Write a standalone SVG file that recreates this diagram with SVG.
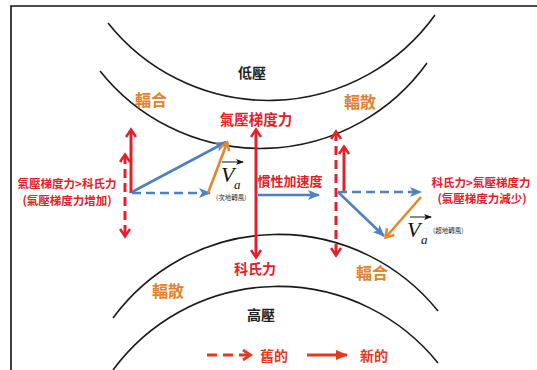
<svg xmlns="http://www.w3.org/2000/svg" width="537" height="370" viewBox="0 0 537 370">
<style>
.arc{fill:none;stroke:#1a1a1a;stroke-width:1.6}
.cjk{font-family:"Noto Sans CJK TC","Noto Sans CJK SC",sans-serif;font-weight:700}
.red{fill:#e3202a}
.org{fill:#e0822e}
.blk{fill:#222}
.lg{fill:#e8381e}
.rl{fill:none;stroke:#e3202a;stroke-width:3}
.rd{fill:none;stroke:#e3202a;stroke-width:3;stroke-dasharray:9,5}
.bl{fill:none;stroke:#4f81c0;stroke-width:2.6}
.bd{fill:none;stroke:#4f81c0;stroke-width:2.6;stroke-dasharray:9,5}
.ol{fill:none;stroke:#e5852c;stroke-width:2.6}
.va{font-family:"Liberation Serif",serif;font-style:italic;fill:#111}
.sm{font-family:"Noto Sans CJK TC",sans-serif;font-size:6.5px;fill:#222}
</style>
<defs>
<marker id="rh" viewBox="0 0 12 12" refX="9" refY="6" markerWidth="12" markerHeight="12" markerUnits="userSpaceOnUse" orient="auto-start-reverse">
<path d="M2,1 L9.5,6 L2,11" fill="none" stroke="#e3202a" stroke-width="2.6"/>
</marker>
<marker id="bh" viewBox="0 0 12 10" refX="11" refY="5" markerWidth="12" markerHeight="10" markerUnits="userSpaceOnUse" orient="auto">
<path d="M0,0 L12,5 L0,10 L3,5 z" fill="#4f81c0"/>
</marker>
<marker id="oh" viewBox="0 0 12 12" refX="9" refY="6" markerWidth="12" markerHeight="12" markerUnits="userSpaceOnUse" orient="auto">
<path d="M2,1 L9.5,6 L2,11" fill="none" stroke="#e5852c" stroke-width="2.6"/>
</marker>
<marker id="kh" viewBox="0 0 8 6" refX="7" refY="3" markerWidth="8" markerHeight="6" markerUnits="userSpaceOnUse" orient="auto">
<path d="M0,0 L8,3 L0,6 L2,3 z" fill="#111"/>
</marker>
<marker id="lh" viewBox="0 0 12 12" refX="9" refY="6" markerWidth="12" markerHeight="12" markerUnits="userSpaceOnUse" orient="auto">
<path d="M2,1 L9.5,6 L2,11" fill="none" stroke="#e8381e" stroke-width="2.8"/>
</marker>
<marker id="lf" viewBox="0 0 12 12" refX="11" refY="6" markerWidth="12" markerHeight="12" markerUnits="userSpaceOnUse" orient="auto">
<path d="M0,1 L12,6 L0,11 z" fill="#e8381e"/>
</marker>
</defs>
<rect width="537" height="370" fill="#fff"/>
<path d="M11,370 L11,6 L537,6" fill="none" stroke="#111" stroke-width="1.6"/>

<g id="isobars">
<path class="arc" d="M108,23 A205,205 0 0 0 435,15"/>
<path class="arc" d="M100,71 A205,205 0 0 0 427,63"/>
<path class="arc" d="M113,318 A205,205 0 0 1 438,311"/>
<path class="arc" d="M113,370 A205,205 0 0 1 438,363"/>
</g>

<g id="connectors">
<line class="rl" x1="131" y1="193" x2="131" y2="130" marker-end="url(#rh)"/>
<line class="rd" x1="125" y1="155" x2="125" y2="236" marker-start="url(#rh)" marker-end="url(#rh)"/>
<line class="rl" x1="256" y1="130" x2="256" y2="257" marker-start="url(#rh)" marker-end="url(#rh)"/>
<line class="rd" x1="336" y1="132" x2="336" y2="255" marker-start="url(#rh)" marker-end="url(#rh)"/>
<line class="rl" x1="344" y1="192" x2="344" y2="147" marker-end="url(#rh)"/>
<line class="bl" x1="132" y1="192" x2="226" y2="142" marker-end="url(#bh)"/>
<line class="bd" x1="132" y1="193" x2="210" y2="193" marker-end="url(#bh)"/>
<line class="ol" x1="208" y1="193" x2="227" y2="143" marker-end="url(#oh)"/>
<line class="bl" x1="258" y1="195" x2="319" y2="195" marker-end="url(#bh)"/>
<line class="bd" x1="338" y1="192" x2="421" y2="192" marker-end="url(#bh)"/>
<line class="bl" x1="338" y1="192" x2="384" y2="236" marker-end="url(#bh)"/>
<line class="ol" x1="421" y1="197" x2="386" y2="237" marker-end="url(#oh)"/>
<line x1="222" y1="162" x2="243" y2="162" stroke="#111" stroke-width="1" marker-end="url(#kh)"/>
<line x1="410" y1="217" x2="431" y2="217" stroke="#111" stroke-width="1" marker-end="url(#kh)"/>
</g>

<g id="low"><text class="cjk blk" x="252" y="78" font-size="14" text-anchor="middle">低壓</text></g>
<g id="high"><text class="cjk blk" x="261" y="320" font-size="14" text-anchor="middle">高壓</text></g>
<g id="conv1"><text class="cjk org" x="151" y="106" font-size="16" text-anchor="middle">輻合</text></g>
<g id="div1"><text class="cjk org" x="360" y="108" font-size="16" text-anchor="middle">輻散</text></g>
<g id="div2"><text class="cjk org" x="168" y="297" font-size="16" text-anchor="middle">輻散</text></g>
<g id="conv2"><text class="cjk org" x="372" y="279" font-size="16" text-anchor="middle">輻合</text></g>
<g id="pgf"><text class="cjk red" x="256" y="125" font-size="14.5" text-anchor="middle">氣壓梯度力</text></g>
<g id="cor"><text class="cjk red" x="255" y="274" font-size="14" text-anchor="middle">科氏力</text></g>
<g id="inertia"><text class="cjk red" x="290" y="186" font-size="13" text-anchor="middle">慣性加速度</text></g>
<g id="left-label">
<text class="cjk red" x="67" y="188" font-size="11.5" text-anchor="middle">氣壓梯度力&gt;科氏力</text>
<text class="cjk red" x="67" y="205" font-size="11.5" text-anchor="middle">(氣壓梯度力增加)</text>
</g>
<g id="right-label">
<text class="cjk red" x="481" y="187" font-size="11.5" text-anchor="middle">科氏力&gt;氣壓梯度力</text>
<text class="cjk red" x="482" y="203" font-size="11.5" text-anchor="middle">(氣壓梯度力減少)</text>
</g>
<g id="va-left">
<text class="va" x="221" y="182" font-size="22">V</text>
<text class="va" x="234" y="189" font-size="13">a</text>
<text class="sm" x="216" y="200">(次地轉風)</text>
</g>
<g id="va-right">
<text class="va" x="407" y="237" font-size="22">V</text>
<text class="va" x="421" y="244" font-size="13">a</text>
<text class="sm" x="433" y="233">(超地轉風)</text>
</g>
<g id="legend">
<line x1="207" y1="355" x2="250" y2="355" stroke="#e8381e" stroke-width="3" stroke-dasharray="10,6" marker-end="url(#lh)"/>
<text class="cjk lg" x="260" y="361" font-size="14">舊的</text>
<line x1="307" y1="355" x2="347" y2="355" stroke="#e8381e" stroke-width="3" marker-end="url(#lf)"/>
<text class="cjk lg" x="360" y="361" font-size="14">新的</text>
</g>
</svg>
